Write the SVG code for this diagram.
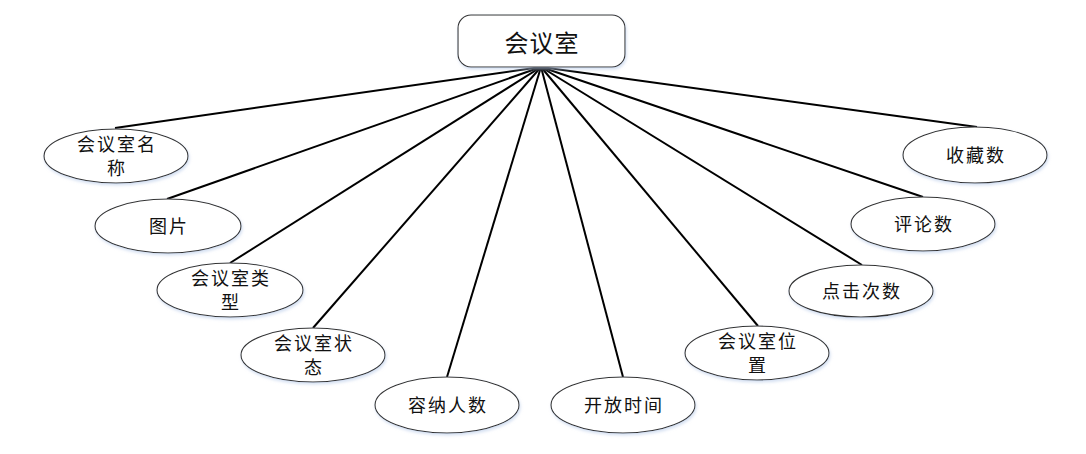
<svg xmlns="http://www.w3.org/2000/svg" width="1086" height="454" viewBox="0 0 1086 454">
<defs>
<filter id="sh" x="-10%" y="-20%" width="120%" height="150%">
<feDropShadow dx="1" dy="2" stdDeviation="1.5" flood-color="#b8cbe8" flood-opacity="0.6"/>
</filter>
</defs>
<style>
.n{fill:#ffffff;stroke:#333333;stroke-width:1.1;filter:url(#sh)}
.t{font-family:"Noto Sans CJK SC","Noto Sans",sans-serif;font-size:18px;fill:#111111;text-anchor:middle;letter-spacing:2px}
.tt{font-family:"Noto Sans CJK SC","Noto Sans",sans-serif;font-size:24px;fill:#111111;text-anchor:middle;letter-spacing:1px}
.c{stroke:#000000;stroke-width:2;fill:none}
</style>
<rect width="1086" height="454" fill="#ffffff"/>
<g id="connectors">
<line class="c" x1="541" y1="67" x2="115" y2="128"/>
<line class="c" x1="541" y1="67" x2="167" y2="199"/>
<line class="c" x1="541" y1="67" x2="230" y2="263"/>
<line class="c" x1="541" y1="67" x2="313" y2="328"/>
<line class="c" x1="541" y1="67" x2="447" y2="377"/>
<line class="c" x1="541" y1="67" x2="623" y2="377"/>
<line class="c" x1="541" y1="67" x2="758" y2="326"/>
<line class="c" x1="541" y1="67" x2="862" y2="265"/>
<line class="c" x1="541" y1="67" x2="923" y2="197"/>
<line class="c" x1="541" y1="67" x2="977" y2="127"/>
</g>
<g id="room">
<rect class="n" x="458" y="15" width="167" height="52" rx="13" ry="13"/>
<text class="tt" x="542" y="52">会议室</text>
</g>
<g id="name">
<ellipse class="n" cx="116" cy="156" rx="72" ry="27"/>
<text class="t" x="117" y="151">会议室名</text>
<text class="t" x="117" y="175">称</text>
</g>
<g id="picture">
<ellipse class="n" cx="168" cy="226" rx="73" ry="27"/>
<text class="t" x="169" y="233">图片</text>
</g>
<g id="type">
<ellipse class="n" cx="230" cy="290" rx="73" ry="27"/>
<text class="t" x="231" y="285">会议室类</text>
<text class="t" x="231" y="309">型</text>
</g>
<g id="status">
<ellipse class="n" cx="313" cy="355" rx="72" ry="27"/>
<text class="t" x="314" y="350">会议室状</text>
<text class="t" x="314" y="374">态</text>
</g>
<g id="capacity">
<ellipse class="n" cx="447" cy="405" rx="72" ry="28"/>
<text class="t" x="448" y="412">容纳人数</text>
</g>
<g id="opentime">
<ellipse class="n" cx="623" cy="405" rx="72" ry="28"/>
<text class="t" x="624" y="412">开放时间</text>
</g>
<g id="location">
<ellipse class="n" cx="757" cy="353" rx="72" ry="27"/>
<text class="t" x="758" y="348">会议室位</text>
<text class="t" x="758" y="372">置</text>
</g>
<g id="clicks">
<ellipse class="n" cx="861" cy="291" rx="72" ry="26"/>
<text class="t" x="862" y="298">点击次数</text>
</g>
<g id="comments">
<ellipse class="n" cx="923" cy="224" rx="72" ry="27"/>
<text class="t" x="924" y="231">评论数</text>
</g>
<g id="favorites">
<ellipse class="n" cx="975" cy="155" rx="72" ry="28"/>
<text class="t" x="976" y="162">收藏数</text>
</g>
</svg>
